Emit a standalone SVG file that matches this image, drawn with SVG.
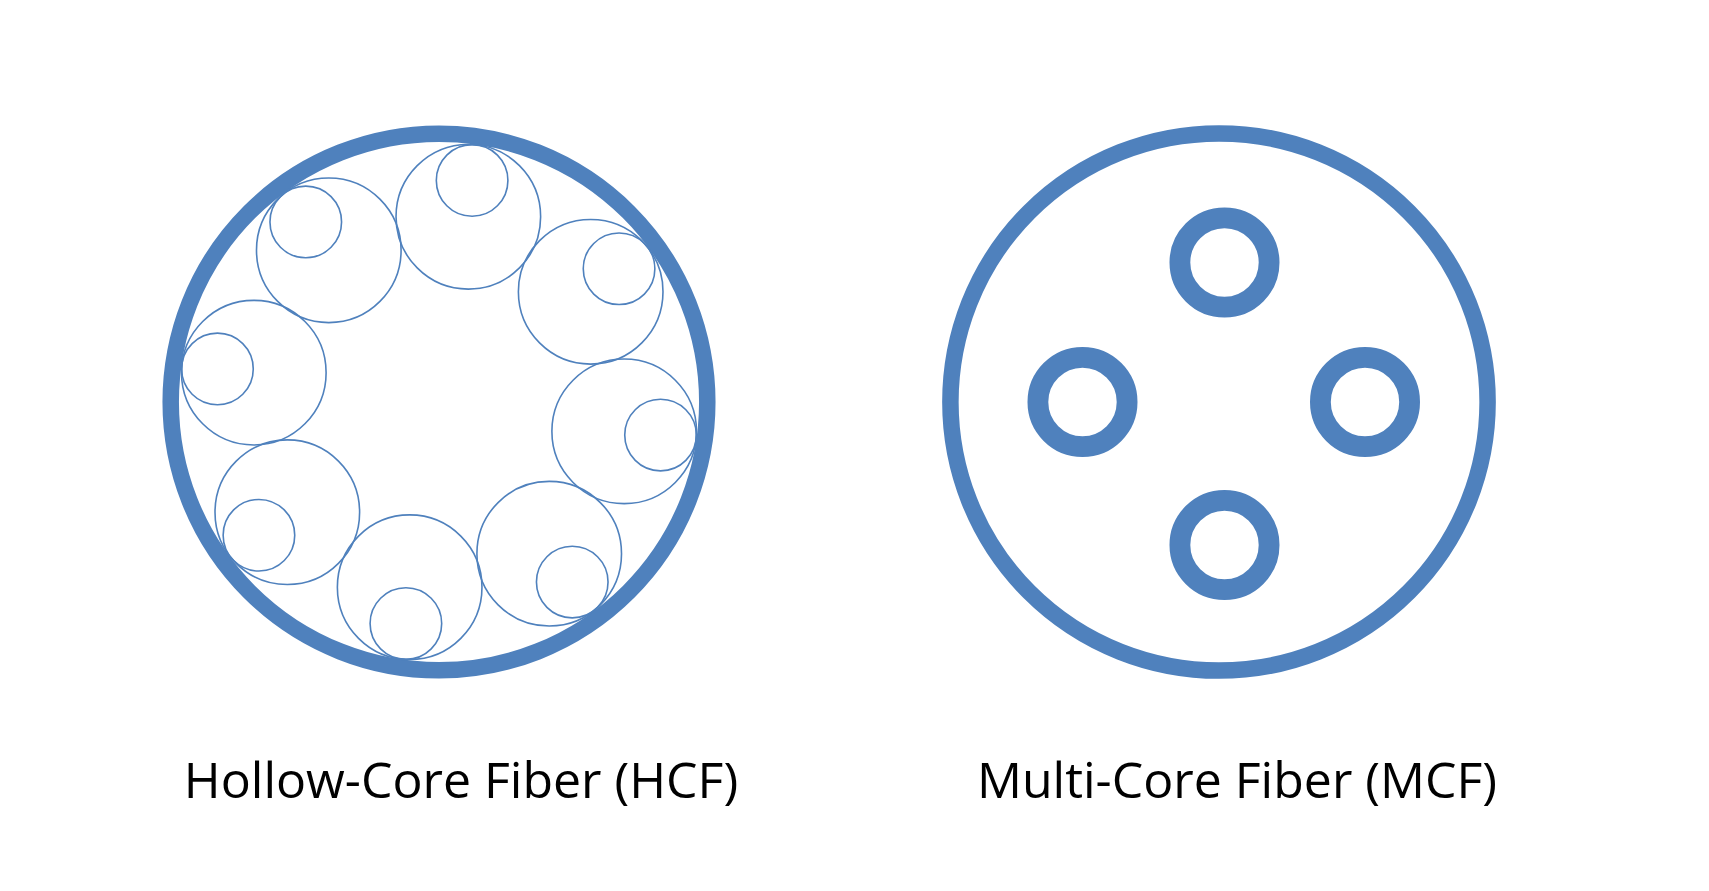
<svg xmlns="http://www.w3.org/2000/svg" width="1709" height="891" viewBox="0 0 1709 891">
  <style>
    .jacket { fill: none; stroke: #4F81BD; stroke-width: 16.5; }
    .tube { fill: none; stroke: #4F81BD; stroke-width: 1.6; }
    .core { fill: none; stroke: #4F81BD; stroke-width: 20.8; }
    .label { font-family: "Open Sans", "Noto Sans", "DejaVu Sans", sans-serif; font-size: 50px; fill: #000000; text-anchor: middle; }
  </style>
  <rect width="1709" height="891" fill="#FFFFFF"/>
  <g id="hcf">
    <circle class="jacket" cx="439" cy="402" r="268.3"/>
    <g id="hcf-tubes">
      <circle class="tube" cx="624.19" cy="431.33" r="72.3"/>
      <circle class="tube" cx="549.21" cy="553.69" r="72.3"/>
      <circle class="tube" cx="409.67" cy="587.19" r="72.3"/>
      <circle class="tube" cx="287.31" cy="512.21" r="72.3"/>
      <circle class="tube" cx="253.81" cy="372.67" r="72.3"/>
      <circle class="tube" cx="328.79" cy="250.31" r="72.3"/>
      <circle class="tube" cx="468.33" cy="216.81" r="72.3"/>
      <circle class="tube" cx="590.69" cy="291.79" r="72.3"/>
      <circle class="tube" cx="660.54" cy="435.11" r="35.8"/>
      <circle class="tube" cx="572.24" cy="582.06" r="35.8"/>
      <circle class="tube" cx="405.89" cy="623.54" r="35.8"/>
      <circle class="tube" cx="258.94" cy="535.24" r="35.8"/>
      <circle class="tube" cx="217.46" cy="368.89" r="35.8"/>
      <circle class="tube" cx="305.76" cy="221.94" r="35.8"/>
      <circle class="tube" cx="472.11" cy="180.46" r="35.8"/>
      <circle class="tube" cx="619.06" cy="268.76" r="35.8"/>
    </g>
    <text class="label" x="461" y="798">Hollow-Core Fiber (HCF)</text>
  </g>
  <g id="mcf">
    <circle class="jacket" cx="1219" cy="402" r="268.6"/>
    <g id="mcf-cores">
      <circle class="core" cx="1224.5" cy="262.5" r="44.6"/>
      <circle class="core" cx="1082.5" cy="402" r="44.6"/>
      <circle class="core" cx="1365" cy="402" r="44.6"/>
      <circle class="core" cx="1224.5" cy="545" r="44.6"/>
    </g>
    <text class="label" x="1237" y="798">Multi-Core Fiber (MCF)</text>
  </g>
</svg>
